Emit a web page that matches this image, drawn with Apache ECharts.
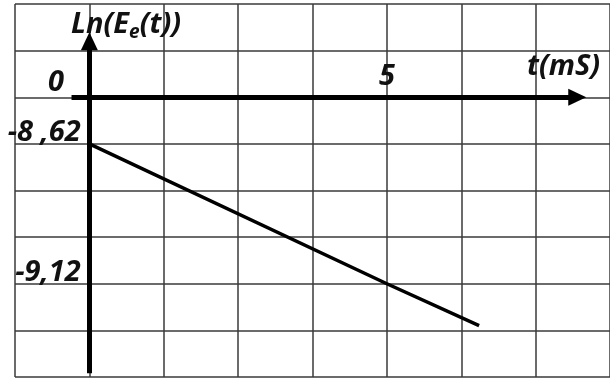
<!DOCTYPE html>
<html>
<head>
<meta charset="utf-8">
<script src="https://cdn.jsdelivr.net/npm/echarts@6/dist/echarts.min.js"></script>
<style>
  html, body { margin: 0; padding: 0; background: #fff; }
  #chart { width: 610px; height: 379px; }
</style>
</head>
<body>
<div id="chart"></div>
<script>
// Measured points of ln(Ee(t)) against time t (ms)
const tValues = [0, 5, 6.55];
const lnEValues = [-8.62, -9.12, -9.27];

// Tick labels written on the axes (decimal comma)
const yTickValues = [-8.62, -9.12];
const yTickLabels = ['-8 ,62', '-9,12'];
const xTickValues = [5];
const xTickLabels = ['5'];
const originLabel = '0';

// Squared paper: 8 x 8 cells, 1.25 ms per column, 1/6 per row
const cells = 8;
const tPerCell = 1.25;
const lnPerCell = 0.5 / 3;
const tMin = -tPerCell;
const tMax = tMin + cells * tPerCell;
const lnMax = -8.62 + 3 * lnPerCell;
const lnMin = lnMax - cells * lnPerCell;

const FONT = '"Open Sans", Lato, sans-serif';
const textBase = { fontFamily: FONT, fontStyle: 'italic', fontWeight: 'bold', fontSize: 29, color: '#111' };

const chart = echarts.init(document.getElementById('chart'), null, { renderer: 'canvas' });

const gridLine = { show: true, lineStyle: { color: '#3a3a3a', width: 1.5 }, showMinLine: true, showMaxLine: true };

chart.setOption({
  animation: false,
  backgroundColor: '#fff',
  title: [
    {
      text: '{a|Ln(E}{b|e}{a|(t))}',
      left: 71, top: 8, padding: 0,
      textStyle: {
        rich: {
          a: Object.assign({}, textBase),
          b: Object.assign({}, textBase, { fontSize: 19, padding: [15, 0, 0, 0] })
        }
      }
    },
    {
      text: 't(mS)',
      left: 527, top: 52, padding: 0,
      textStyle: Object.assign({}, textBase)
    }
  ],
  grid: { left: 15, top: 4, width: 598, height: 373, containLabel: false },
  xAxis: [
    {
      // paper columns
      type: 'value', min: 0, max: cells, interval: 1,
      axisLine: { show: false }, axisTick: { show: false }, axisLabel: { show: false },
      splitLine: gridLine
    },
    {
      // time scale, drawn along the horizontal arrow
      type: 'value', min: tMin, max: tMax, position: 'top', offset: -93,
      axisLine: { show: false }, axisTick: { show: false }, splitLine: { show: false },
      axisLabel: {
        show: true, customValues: xTickValues, margin: 6,
        formatter: v => xTickLabels[xTickValues.indexOf(v)] ?? '',
        ...textBase
      }
    }
  ],
  yAxis: [
    {
      // paper rows, with the origin label on the horizontal arrow
      type: 'value', min: 0, max: cells, interval: 1,
      axisLine: { show: false }, axisTick: { show: false },
      axisLabel: {
        show: true, inside: true, customValues: [6], margin: 33,
        formatter: () => originLabel, verticalAlign: 'bottom',
        ...textBase
      },
      splitLine: gridLine
    },
    {
      // ln(Ee) scale, drawn along the vertical arrow
      type: 'value', min: lnMin, max: lnMax, position: 'left', offset: -74.75,
      axisLine: { show: false }, axisTick: { show: false }, splitLine: { show: false },
      axisLabel: {
        show: true, customValues: yTickValues, margin: 9,
        formatter: v => yTickLabels[yTickValues.indexOf(v)] ?? '',
        verticalAlign: 'bottom', align: 'right', padding: [0, 0, -3, 0],
        ...textBase
      }
    }
  ],
  series: [
    {
      // the two arrows of the frame, in paper-cell coordinates
      type: 'line', xAxisIndex: 0, yAxisIndex: 0, data: [],
      markLine: {
        silent: true, animation: false,
        symbol: ['none', 'triangle'], symbolSize: [17, 18],
        label: { show: false },
        lineStyle: { color: '#000', width: 5, type: 'solid' },
        emphasis: { disabled: true },
        data: [
          [{ coord: [1, 0.08] }, { coord: [1, 7.2] }],
          [{ coord: [0.76, 6] }, { coord: [7.56, 6] }]
        ]
      }
    },
    {
      name: 'ln(Ee(t))',
      type: 'line', xAxisIndex: 1, yAxisIndex: 1,
      data: tValues.map((t, i) => [t, lnEValues[i]]),
      symbol: 'none',
      lineStyle: { color: '#000', width: 3.5 }
    }
  ]
});
</script>
</body>
</html>
